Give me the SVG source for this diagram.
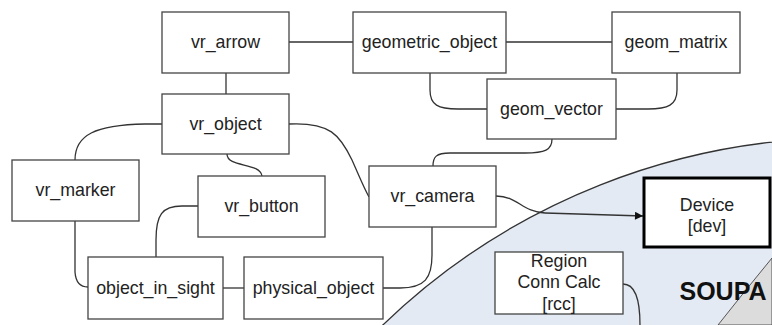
<svg xmlns="http://www.w3.org/2000/svg" width="772" height="325" viewBox="0 0 772 325">
<defs>
<style>
.box{fill:#fff;stroke:#444;stroke-width:1.3}
.dev{fill:#fff;stroke:#000;stroke-width:3}
.lbl{font-family:"Liberation Sans",Arial,sans-serif;font-size:17.8px;fill:#222;text-anchor:middle}
.conn{fill:none;stroke:#333;stroke-width:1.3}
</style>
<marker id="arr" viewBox="0 0 10 10" refX="10" refY="5" markerWidth="10" markerHeight="8" markerUnits="userSpaceOnUse" orient="auto">
<path d="M0,0 L10,5 L0,10 z" fill="#111"/>
</marker>
</defs>
<rect width="772" height="325" fill="#fff"/>
<g id="soupa-region">
<circle cx="846" cy="805" r="667" fill="#e3eaf4" stroke="#333" stroke-width="1.3"/>
<path d="M718,325 Q744,292 772,258 L772,325 Z" fill="#dcdcdc" stroke="#555" stroke-width="1"/>
<text x="723" y="300" style="font-family:'Liberation Sans',Arial,sans-serif;font-size:25px;font-weight:bold;fill:#111;text-anchor:middle">SOUPA</text>
</g>
<g id="connectors">
<path class="conn" d="M289,42 L353,42"/>
<path class="conn" d="M506,42 L612,42"/>
<path class="conn" d="M226,73 L226,94"/>
<path class="conn" d="M430,73 L430,90 C430,105 438,109 458,109 L487,109"/>
<path class="conn" d="M677,73 L677,90 C677,105 668,109 648,109 L616,109"/>
<path class="conn" d="M552,139 C552,150 545,153 525,153 L450,153 C436,153 433,157 433,166"/>
<path class="conn" d="M289,124 C330,122 340,135 352,160 C360,178 364,188 369,197"/>
<path class="conn" d="M162,124 L145,124 C95,125 75,135 75,160"/>
<path class="conn" d="M227,154 C227,168 260,162 262,176"/>
<path class="conn" d="M75,221 L75,272 Q76,287 88,287"/>
<path class="conn" d="M198,206 L182,206 C162,206 156,215 156,240 L156,257"/>
<path class="conn" d="M223,288 L244,288"/>
<path class="conn" d="M383,288 L400,288 C425,288 432,278 432,255 L432,227"/>
<path class="conn" d="M496,196 C518,196 522,212 545,213 L643,216" marker-end="url(#arr)"/>
<path class="conn" d="M623,284 C635,284 640,300 640,325"/>
</g>
<g id="vr_arrow"><rect class="box" x="162" y="12" width="127" height="61"/><text class="lbl" x="225.5" y="48">vr_arrow</text></g>
<g id="geometric_object"><rect class="box" x="353" y="12" width="153" height="61"/><text class="lbl" x="429.5" y="48">geometric_object</text></g>
<g id="geom_matrix"><rect class="box" x="612" y="12" width="128" height="61"/><text class="lbl" x="676" y="48">geom_matrix</text></g>
<g id="geom_vector"><rect class="box" x="487" y="79" width="129" height="60"/><text class="lbl" x="551.5" y="115">geom_vector</text></g>
<g id="vr_object"><rect class="box" x="162" y="94" width="127" height="60"/><text class="lbl" x="225.5" y="130">vr_object</text></g>
<g id="vr_marker"><rect class="box" x="12" y="160" width="127" height="61"/><text class="lbl" x="75.5" y="196">vr_marker</text></g>
<g id="vr_button"><rect class="box" x="198" y="176" width="127" height="61"/><text class="lbl" x="261.5" y="212">vr_button</text></g>
<g id="vr_camera"><rect class="box" x="369" y="166" width="127" height="61"/><text class="lbl" x="432.5" y="202">vr_camera</text></g>
<g id="object_in_sight"><rect class="box" x="88" y="257" width="135" height="62"/><text class="lbl" x="155.5" y="294">object_in_sight</text></g>
<g id="physical_object"><rect class="box" x="244" y="257" width="139" height="62"/><text class="lbl" x="313.5" y="294">physical_object</text></g>
<g id="device"><rect class="dev" x="644" y="178" width="126" height="69"/><text class="lbl" x="707" y="211">Device</text><text class="lbl" x="707" y="232">[dev]</text></g>
<g id="rcc"><rect class="box" x="495" y="252" width="128" height="62"/><text class="lbl" x="559" y="267">Region</text><text class="lbl" x="559" y="288">Conn Calc</text><text class="lbl" x="559" y="310">[rcc]</text></g>
</svg>
